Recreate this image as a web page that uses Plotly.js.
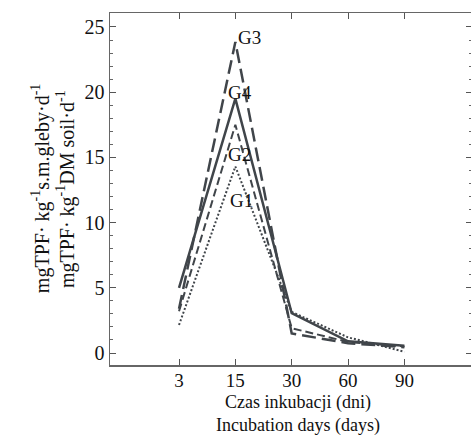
<!DOCTYPE html>
<html><head><meta charset="utf-8">
<script src="https://cdn.plot.ly/plotly-3.0.1.min.js"></script>
<style>html,body{margin:0;padding:0;overflow:hidden;background:#fff;}</style>
</head><body>
<div id="chart" style="width:480px;height:437px;"></div>
<script>
const days = ['3', '15', '30', '60', '90'];
const seriesNames = ['G1', 'G2', 'G3', 'G4'];
const g1 = [2.15, 14.3, 3.15, 1.2, 0.1];
const g2 = [3.2, 17.5, 1.9, 0.85, 0.5];
const g3 = [3.4, 23.85, 1.5, 0.75, 0.45];
const g4 = [5.0, 19.5, 3.05, 0.9, 0.55];
const yTicks = [0, 5, 10, 15, 20, 25];
const xTitleLines = ['Czas inkubacji (dni)', 'Incubation days (days)'];
const yTitleLines = ['mgTPF· kg<sup>-1</sup>s.m.gleby·d<sup>-1</sup>', 'mgTPF· kg<sup>-1</sup>DM soil·d<sup>-1</sup>'];

const lineColor = '#40454a';
const serif = 'Liberation Serif, Times New Roman, serif';
const styles = {
  G1: {dash: '2px,2px', width: 2},
  G2: {dash: '8px,4px', width: 2},
  G3: {dash: '14px,6px', width: 2.5},
  G4: {dash: 'solid', width: 2.5}
};
const values = {G1: g1, G2: g2, G3: g3, G4: g4};
const traces = seriesNames.map(n => ({
  x: days, y: values[n], type: 'scatter', mode: 'lines', name: n,
  line: {color: lineColor, width: styles[n].width, dash: styles[n].dash},
  showlegend: false
}));

const peakIdx = days.indexOf('15');
const labelPos = {G1: {y: 11.7, xs: -7}, G2: {y: 15.2, xs: -9}, G3: {y: 24.2, xs: 1}, G4: {y: 20.0, xs: -9}};
const annotations = seriesNames.map(n => ({
  x: peakIdx, y: labelPos[n].y, xref: 'x', yref: 'y', text: n, showarrow: false,
  xanchor: 'left', yanchor: 'middle', xshift: labelPos[n].xs,
  font: {family: serif, size: 19, color: '#111'}
}));
annotations.push({
  x: 0.52, y: -0.2045, xref: 'paper', yref: 'paper', text: xTitleLines.join('<br>'), showarrow: false,
  xanchor: 'center', yanchor: 'bottom', align: 'center', borderpad: 0,
  font: {family: serif, size: 18, color: '#111'}
});
const yTitlePos = [{x: -0.193, y: 0.5}, {x: -0.124, y: 0.5}];
yTitleLines.forEach((t, i) => annotations.push({
  x: yTitlePos[i].x, y: yTitlePos[i].y, xref: 'paper', yref: 'paper', text: t, showarrow: false,
  xanchor: 'center', yanchor: 'middle', textangle: -90, font: {family: serif, size: 20, color: '#111'}
}));

const layout = {
  width: 480, height: 437,
  margin: {l: 110, r: 8, t: 13, b: 72},
  paper_bgcolor: '#fff', plot_bgcolor: '#fff',
  font: {family: serif, size: 20, color: '#111'},
  xaxis: {
    type: 'category', categoryorder: 'array', categoryarray: days,
    range: [-1.225, 5.2], showgrid: false, zeroline: false,
    showline: true, linecolor: '#666', linewidth: 1.5, mirror: 'ticks',
    ticks: 'inside', ticklen: 6, tickcolor: '#555', tickwidth: 1,
    ticklabelstandoff: -2,
    tickfont: {family: serif, size: 19, color: '#111'}
  },
  yaxis: {
    range: [-0.92, 26.07], showgrid: false, zeroline: false,
    showline: true, linecolor: '#666', linewidth: 1.5, mirror: 'ticks',
    tickvals: yTicks, ticktext: yTicks.map(String),
    ticks: 'inside', ticklen: 6, tickcolor: '#555', tickwidth: 1,
    minor: {dtick: 1, ticks: 'inside', ticklen: 3, tickcolor: '#666', tickwidth: 1},
    tickfont: {family: serif, size: 20, color: '#111'}
  },
  annotations: annotations
};
Plotly.newPlot('chart', traces, layout, {staticPlot: true, displayModeBar: false});
</script>
</body></html>
